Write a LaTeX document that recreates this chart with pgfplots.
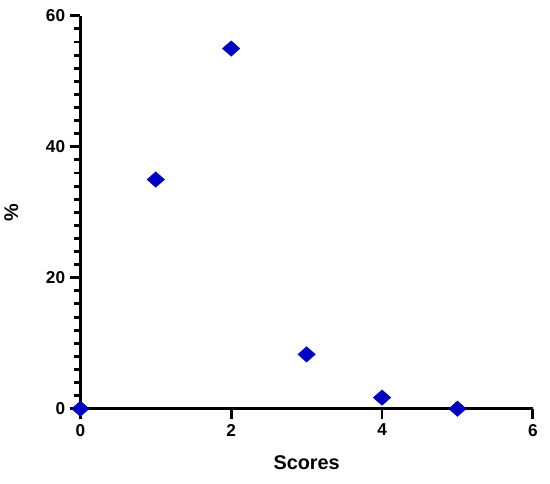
\documentclass[border=0pt]{standalone}
\usepackage{fontspec}
\setmainfont{Liberation Sans}
\usepackage{pgfplots}
\pgfplotsset{compat=1.18}
\definecolor{mk}{RGB}{0,0,192}
\begin{document}
\begin{tikzpicture}
\begin{axis}[
  scale only axis, width=342pt, height=297pt,
  xmin=0, xmax=6, ymin=0, ymax=60,
  axis x line*=bottom, axis y line*=left,
  axis line style={line width=2.6pt, -},
  xtick={0,2,4,6}, ytick={0,20,40,60},
  minor y tick num=9,
  tick align=outside,
  major tick length=8pt, minor tick length=4.5pt,
  every tick/.style={black, line width=2.2pt},
  tick label style={font=\fontsize{13}{15}\selectfont\bfseries},
  /pgf/number format/assume math mode=true,
  xlabel={\fontsize{15}{18}\selectfont\bfseries Scores},
  ylabel={\fontsize{15}{18}\selectfont\bfseries \%},
  xlabel style={yshift=-8pt},
  ylabel style={yshift=14pt},
  clip=false,
]
\addplot[only marks, mark=diamond*, mark size=5.8pt, color=mk,
  mark options={xscale=1.5, fill=mk}] coordinates {
  (0,0) (1,35) (2,55) (3,8.3) (4,1.7) (5,0)
};
\end{axis}
\path (current bounding box.north east) ++(6pt,4pt) coordinate (a);
\path (current bounding box.south west) ++(0,-7pt) coordinate (b);
\useasboundingbox (a) rectangle (b);
\end{tikzpicture}
\end{document}
